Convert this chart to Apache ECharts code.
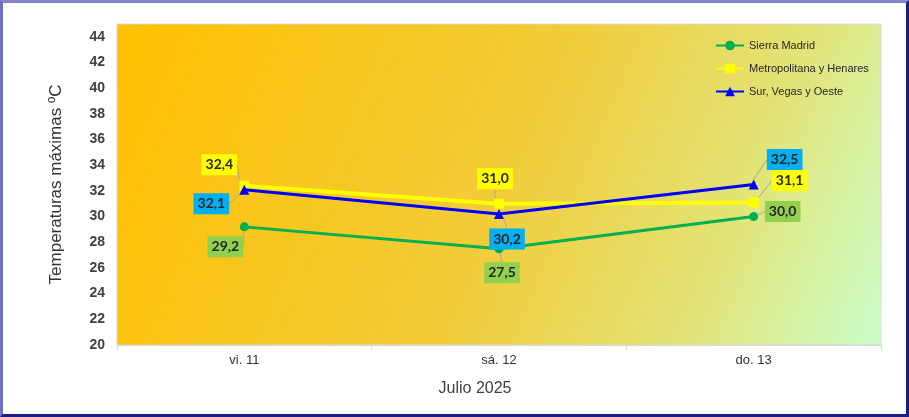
<!DOCTYPE html>
<html>
<head>
<meta charset="utf-8">
<script src="https://cdn.jsdelivr.net/npm/echarts@6/dist/echarts.min.js"></script>
<style>
html,body{margin:0;padding:0;background:#fff;}
#wrap{position:relative;width:909px;height:417px;}
#chart{position:absolute;left:0;top:0;width:909px;height:417px;}
#frame{position:absolute;left:0;top:0;width:909px;height:417px;box-sizing:border-box;pointer-events:none;
border-top:3px solid #8484c8;border-left:3px solid #7070c0;border-right:3px solid #1c1c84;border-bottom:3px solid #1c1c84;}
</style>
</head>
<body>
<div id="wrap"><div id="chart"></div><div id="frame"></div></div>
<script>
const categories = ['vi. 11', 'sá. 12', 'do. 13'];
const sierraMadrid = [29.2, 27.5, 30.0];
const metropolitana = [32.4, 31.0, 31.1];
const surVegas = [32.1, 30.2, 32.5];
const seriesNames = ['Sierra Madrid', 'Metropolitana y Henares', 'Sur, Vegas y Oeste'];
const yTicks = {min: 20, max: 45, interval: 2};

// label offsets (style only)
const labelOffsets = [
  [[-19, 20], [3, 24], [29, -5]],
  [[-25, -21], [-4, -25], [36, -22]],
  [[-33, 14], [8, 25], [31, -25]]
];
const lineColors = ['#00B050', '#FFFF00', '#0000FF'];
const lineWidths = [3, 4, 3];
const labelBg = ['#92D050', '#FFFF00', '#00B0F0'];
const symbols = ['circle', 'rect', 'triangle'];
const symbolSizes = [9, 10, 10];
const seriesData = [sierraMadrid, metropolitana, surVegas];

const chart = echarts.init(document.getElementById('chart'));
const series = seriesData.map((d, i) => ({
  name: seriesNames[i],
  type: 'line',
  data: d,
  symbol: symbols[i],
  symbolSize: symbolSizes[i],
  lineStyle: {color: lineColors[i], width: lineWidths[i]},
  itemStyle: {color: lineColors[i]},
  z: 2 + i,
  label: {
    show: true,
    position: 'inside',
    formatter: p => p.value.toFixed(1).replace('.', ','),
    backgroundColor: labelBg[i],
    padding: [4, 4, 3, 4],
    color: '#262626',
    fontFamily: 'Lato, Arial, sans-serif',
    fontWeight: 'bold',
    fontSize: 14
  },
  labelLine: {show: true, lineStyle: {color: '#a6a6a6', width: 1}},
  labelLayout: p => ({dx: labelOffsets[i][p.dataIndex][0], dy: labelOffsets[i][p.dataIndex][1]}),
  emphasis: {disabled: true}
}));

chart.setOption({
  animation: false,
  title: {
    text: 'Julio 2025', left: 470, top: 376, textAlign: 'center',
    textStyle: {fontFamily: 'Liberation Sans, Arial', fontSize: 16, fontWeight: 'normal', color: '#404040'}
  },
  legend: {
    orient: 'vertical', left: 710, top: 35, itemGap: 12, itemWidth: 28, itemHeight: 12,
    textStyle: {fontFamily: 'Liberation Sans, Arial', fontSize: 11, color: '#262626'},
    data: seriesNames
  },
  grid: {
    left: 117, right: 28, top: 24, bottom: 72,
    show: true, borderColor: '#d9d9d9', borderWidth: 1,
    backgroundColor: new echarts.graphic.LinearGradient(0, 0, 1, 1, [
      {offset: 0, color: '#FFC000'},
      {offset: 0.5, color: '#F2CC38'},
      {offset: 0.78, color: '#E2E478'},
      {offset: 1, color: '#CCFFCC'}
    ])
  },
  xAxis: {
    type: 'category', data: categories, boundaryGap: true,
    axisLine: {lineStyle: {color: '#d9d9d9'}},
    axisTick: {show: true, length: 5, lineStyle: {color: '#d9d9d9'}},
    axisLabel: {margin: 9, fontFamily: 'Liberation Sans, Arial', fontSize: 13, color: '#333'}
  },
  yAxis: {
    type: 'value', min: yTicks.min, max: yTicks.max, interval: yTicks.interval,
    name: 'Temperaturas máximas ºC', nameLocation: 'middle', nameGap: 52, nameRotate: 90,
    nameTextStyle: {fontFamily: 'Liberation Sans, Arial', fontSize: 17, color: '#333'},
    axisLine: {show: false}, axisTick: {show: false}, splitLine: {show: false},
    axisLabel: {showMaxLabel: false, margin: 12, fontFamily: 'Liberation Sans, Arial', fontSize: 14, fontWeight: 'bold', color: '#404040'}
  },
  series: series
});
</script>
</body>
</html>
